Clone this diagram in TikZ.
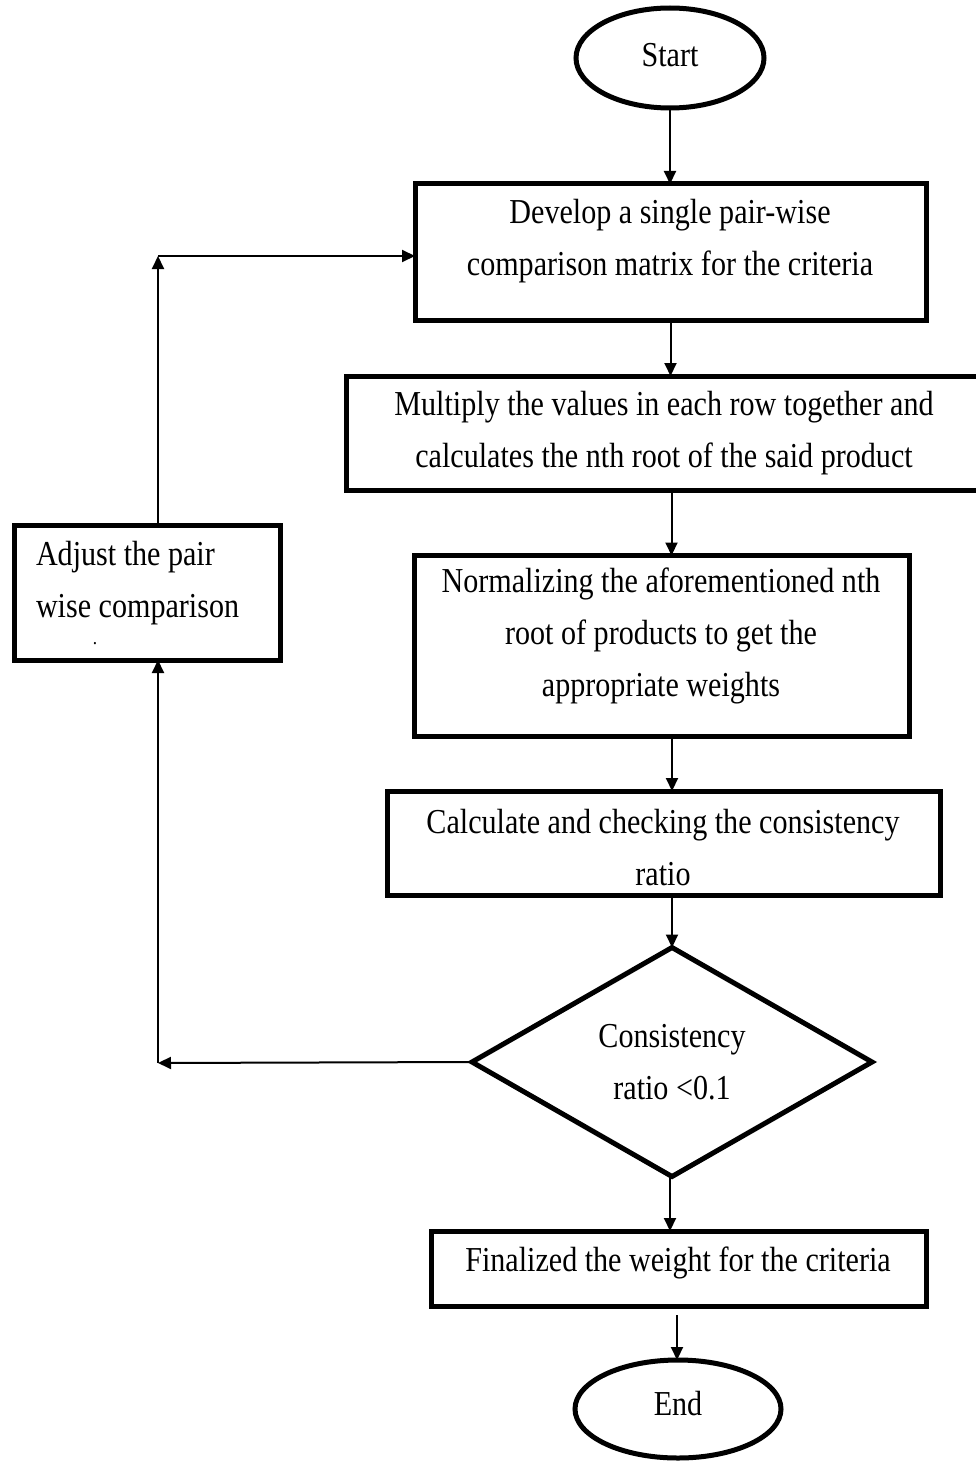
\documentclass[tikz,border=0pt]{standalone}
\usepackage{fontspec}
\setmainfont{Liberation Serif}[FakeStretch=0.86]
\usetikzlibrary{shapes.geometric,arrows.meta}
\begin{document}
\begin{tikzpicture}[x=1pt,y=-1pt,
  every node/.style={font=\fontsize{35}{52}\selectfont, inner sep=0pt, outer sep=0pt},
  stepbox/.style={draw, line width=5pt, rectangle},
  terminal/.style={draw, line width=5pt, ellipse},
  decision/.style={draw, line width=5pt, diamond, align=center},
  txt/.style={align=center},
  conn/.style={line width=2pt, -{Triangle[length=13pt,width=12pt]}}]
\clip (0,0) rectangle (976,1466);
\useasboundingbox (0,0) rectangle (976,1466);

% terminals
\node[terminal, minimum width=188, minimum height=100, text depth=7pt] (start) at (670,58) {Start};
\node[terminal, minimum width=206, minimum height=98, text depth=12pt] (end) at (678,1409) {End};

% process boxes
\node[stepbox, minimum width=511, minimum height=136] (b1) at (670.5,252) {};
\node[txt] (t1) at (670,241) {Develop a single pair-wise\\comparison matrix for the criteria};

\node[stepbox, minimum width=644, minimum height=114] (b2) at (668,433) {};
\node[txt] (t2) at (664,433) {Multiply the values in each row together and\\calculates the nth root of the said product};

\node[stepbox, minimum width=495, minimum height=181] (b3) at (661.5,646) {};
\node[txt] (t3) at (661,636) {Normalizing the aforementioned nth\\root of products to get the\\appropriate weights};

\node[stepbox, minimum width=553, minimum height=104] (b4) at (663.5,843) {};
\node[txt] (t4) at (663,848) {Calculate and checking the consistency\\ratio};

\node[decision, minimum width=400, minimum height=229] (dec) at (672,1062) {Consistency\\ratio <0.1};

\node[stepbox, minimum width=495, minimum height=75] (b5) at (678.5,1268.5) {};
\node[txt] (t5) at (678,1263) {Finalized the weight for the criteria};

\node[stepbox, minimum width=266, minimum height=135] (adj) at (147,592.5) {};
\node[align=left, anchor=west] (tadj) at (36,583) {Adjust the pair\\wise comparison};
\node[font=\fontsize{20}{20}\selectfont] (dot) at (95,644) {.};

% loop corners
\coordinate (cl) at (158,1063);
\coordinate (ct) at (158,256);

% main flow
\draw[conn] (start.south) -- (start.south |- b1.north);
\draw[conn] (b1.south) -- (b1.south |- b2.north);
\draw[conn] ([xshift=3.5pt]b2.south) -- ([xshift=3.5pt]b2.south |- b3.north);
\draw[conn] ([xshift=10.5pt]b3.south) -- ([xshift=10.5pt]b3.south |- b4.north);
\draw[conn] ([xshift=8.5pt]b4.south) -- (dec.north);
\draw[conn] ([xshift=-2pt]dec.south) -- ([xshift=-2pt]dec.south |- b5.north);
\draw[conn, shorten <=9pt] ([xshift=-1.5pt]b5.south) -- ([xshift=-1.5pt]b5.south |- end.north);

% feedback loop
\draw[conn] (dec.west) -- (cl);
\draw[conn] (cl) -- (cl |- adj.south);
\draw[conn] (ct |- adj.north) -- (ct);
\draw[conn] (ct) -- (ct -| b1.west);
\end{tikzpicture}
\end{document}
